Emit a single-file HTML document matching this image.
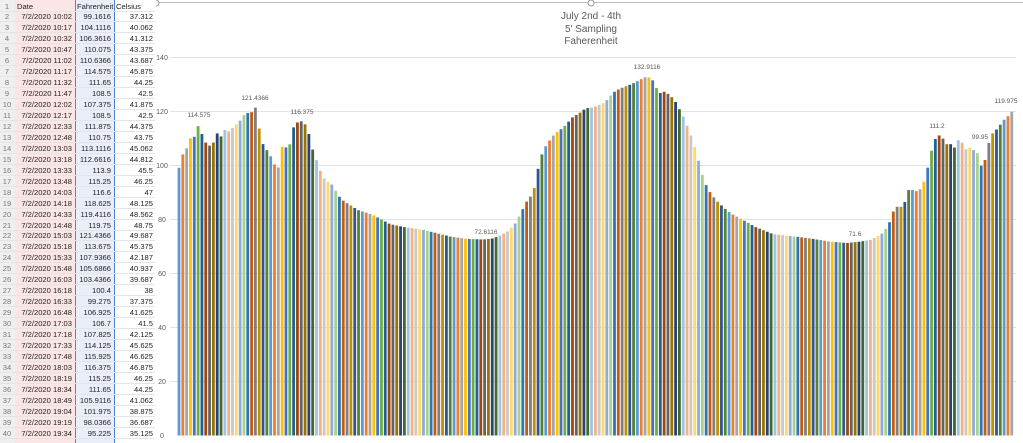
<!DOCTYPE html>
<html><head><meta charset="utf-8">
<style>
html,body{margin:0;padding:0;width:1023px;height:443px;overflow:hidden;background:#fff;font-family:"Liberation Sans",sans-serif}
#sheet{position:absolute;left:0;top:0;width:156px;height:443px;background:#fff}
.r{position:absolute;left:0;width:155px;height:11px;font-size:7.6px;color:#222;border-bottom:1px solid #e4e4e4;box-sizing:border-box}
.r span{position:absolute;top:1px;white-space:nowrap}
#svg{position:absolute;left:0;top:0;pointer-events:none}
</style></head><body>
<svg id="svg" width="1023" height="443" xmlns="http://www.w3.org/2000/svg"></svg>
<div id="sheet"></div>
<script>
var rows=[["7/2/2020 10:02","99.1616","37.312"],["7/2/2020 10:17","104.1116","40.062"],["7/2/2020 10:32","106.3616","41.312"],["7/2/2020 10:47","110.075","43.375"],["7/2/2020 11:02","110.6366","43.687"],["7/2/2020 11:17","114.575","45.875"],["7/2/2020 11:32","111.65","44.25"],["7/2/2020 11:47","108.5","42.5"],["7/2/2020 12:02","107.375","41.875"],["7/2/2020 12:17","108.5","42.5"],["7/2/2020 12:33","111.875","44.375"],["7/2/2020 12:48","110.75","43.75"],["7/2/2020 13:03","113.1116","45.062"],["7/2/2020 13:18","112.6616","44.812"],["7/2/2020 13:33","113.9","45.5"],["7/2/2020 13:48","115.25","46.25"],["7/2/2020 14:03","116.6","47"],["7/2/2020 14:18","118.625","48.125"],["7/2/2020 14:33","119.4116","48.562"],["7/2/2020 14:48","119.75","48.75"],["7/2/2020 15:03","121.4366","49.687"],["7/2/2020 15:18","113.675","45.375"],["7/2/2020 15:33","107.9366","42.187"],["7/2/2020 15:48","105.6866","40.937"],["7/2/2020 16:03","103.4366","39.687"],["7/2/2020 16:18","100.4","38"],["7/2/2020 16:33","99.275","37.375"],["7/2/2020 16:48","106.925","41.625"],["7/2/2020 17:03","106.7","41.5"],["7/2/2020 17:18","107.825","42.125"],["7/2/2020 17:33","114.125","45.625"],["7/2/2020 17:48","115.925","46.625"],["7/2/2020 18:03","116.375","46.875"],["7/2/2020 18:19","115.25","46.25"],["7/2/2020 18:34","111.65","44.25"],["7/2/2020 18:49","105.9116","41.062"],["7/2/2020 19:04","101.975","38.875"],["7/2/2020 19:19","98.0366","36.687"],["7/2/2020 19:34","95.225","35.125"]];
var sh=document.getElementById('sheet'),h='';
h+='<div style="position:absolute;left:0;top:0;width:15px;height:443px;background:#efefef"></div>';
h+='<div style="position:absolute;left:15px;top:0;width:60px;height:443px;background:#fbe5e5;border-right:1px solid #d9595a"></div>';
h+='<div style="position:absolute;left:76px;top:0;width:38px;height:443px;background:#e9eef9;border-right:1px solid #4f7fd9"></div>';
for(var n=1;n<=40;n++){var t=(n-1)*10.95+0.5;
 var c=n==1?["Date","Fahrenheit","Celsius"]:rows[n-2];
 h+='<div class="r" style="top:'+t+'px">'
 +'<span style="left:0;width:14px;text-align:center;color:#777">'+n+'</span>'
 +(n==1?'<span style="left:17px">'+c[0]+'</span><span style="left:77px">'+c[1]+'</span><span style="left:116px">'+c[2]+'</span>'
 :'<span style="right:83px;text-align:right">'+c[0]+'</span><span style="right:44px">'+c[1]+'</span><span style="right:2px">'+c[2]+'</span>')+'</div>';}
sh.innerHTML=h;

var vals=rows.map(function(r){return +r[1]});
var kp=[[330,94],[341,87.5],[358,83.5],[373,81.7],[390,78.3],[404,77.2],[423,76.2],[437,74.9],[450,73.7],[467,72.8],[484,72.6],[493,73],[502,74.4],[508,75.7],[513,77.6],[517,79.3],[520,82],[524,84.6],[528,87.7],[532,89],[536,93.7],[539,101],[543,105.3],[547,108],[551,110],[555,111.8],[559,112.9],[563,114],[567,115.5],[570,116.9],[574,118.4],[578,118.9],[582,120.2],[586,121.2],[593,121.5],[597,122.1],[601,122.8],[605,123.4],[613,127],[620,128.5],[632,130.2],[643,132.3],[647,133],[652,132],[655,130],[659,126.5],[663,127.5],[667,126.8],[671,125.6],[675,124],[678,121.7],[682,119.3],[686,115.7],[689,112.9],[693,109],[697,103.9],[701,98.3],[704,94.4],[708,91.3],[712,89],[716,87.2],[720,85.7],[723,84.7],[727,83.3],[732,82],[740,80.4],[747,79],[755,77.3],[763,76.1],[773,74.6],[790,73.9],[810,73],[830,71.8],[847,71.3],[860,71.8],[870,72.4],[877,73.6],[882,74.8],[885,76.1],[889,78.3],[892,82.3],[897,84.7],[901,84.7],[904,85.4],[908,90.9],[912,91],[916,90.5],[919,90.6],[923,92.8],[927,98],[931,104.7],[934,109],[938,111.3],[942,110.7],[946,107.8],[950,108.2],[954,106.3],[958,109.4],[962,108.5],[966,106],[969,106.8],[973,105.8],[977,105.1],[981,99.8],[985,102],[989,108.6],[992,111.7],[996,113.1],[1000,115],[1004,116.9],[1008,118.3],[1012,120]];
function interp(x){for(var i=0;i<kp.length-1;i++){if(x<=kp[i+1][0]){var a=kp[i],b=kp[i+1];var f=(x-a[0])/(b[0]-a[0]);if(f<0)f=0;return a[1]+f*(b[1]-a[1]);}}return kp[kp.length-1][1];}
var cols=["#5B9BD5","#ED7D31","#A5A5A5","#FFC000","#4472C4","#70AD47","#255E91","#9E480E","#636363","#997300","#264478","#43682B","#9DC3E6","#F4B183","#C9C9C9","#FFD966","#8FAADC","#A9D18E","#2E75B6","#C55A11","#7F7F7F","#BF9000","#2F5597","#548235"];
var y0=435.5,k=2.7,s='';
s+='<rect x="155.5" y="2.5" width="870" height="445" fill="#fff" stroke="#bfbfbf"/>';
s+='<circle cx="156" cy="3" r="3" fill="#fff" stroke="#999"/><circle cx="591" cy="3" r="3" fill="#fff" stroke="#999"/>';
for(var g=0;g<=7;g++){var y=y0-g*20*k;
 if(g>0)s+='<line x1="170" x2="1016" y1="'+y+'" y2="'+y+'" stroke="#e3e3e3" stroke-width="1"/>';
 s+='<text x="162" y="'+(y+2.5)+'" font-size="7" fill="#595959" text-anchor="middle">'+(g*20)+'</text>';}
for(var i=0;i<219;i++){var x=179+3.82*i;var v=i<vals.length?vals[i]:interp(x);
 var hh=v*k;s+='<rect x="'+(x-1.4).toFixed(2)+'" y="'+(y0-hh).toFixed(2)+'" width="2.8" height="'+hh.toFixed(2)+'" fill="'+cols[i%24]+'"/>';}
var labs=[[199,117,"114.575"],[255,100,"121.4366"],[302,114,"116.375"],[486,234,"72.6116"],[647,69,"132.9116"],[855,236,"71.6"],[937,128,"111.2"],[980,139,"99.95"],[1006,103,"119.975"]];
labs.forEach(function(l){s+='<text x="'+l[0]+'" y="'+l[1]+'" font-size="6.5" fill="#595959" text-anchor="middle">'+l[2]+'</text>';});
s+='<text x="591" y="19" font-size="10" fill="#595959" text-anchor="middle">July 2nd - 4th</text>';
s+='<text x="591" y="32" font-size="10" fill="#595959" text-anchor="middle">5\' Sampling</text>';
s+='<text x="591" y="44" font-size="10" fill="#595959" text-anchor="middle">Faherenheit</text>';
document.getElementById('svg').innerHTML=s;
</script>
</body></html>
